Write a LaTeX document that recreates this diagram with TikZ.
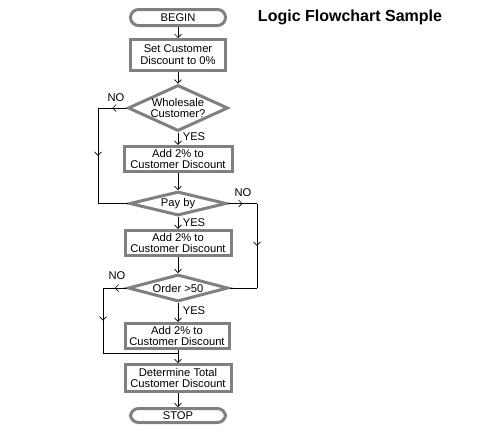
\documentclass[tikz,border=0pt]{standalone}
\usepackage{fontspec}
\setmainfont{Liberation Sans}
\usetikzlibrary{shapes.geometric,arrows.meta,decorations.markings}
\definecolor{boxgray}{RGB}{128,128,128}
\tikzset{
  x=1pt, y=-1pt,
  every node/.style={font=\fontsize{11.2}{11.8}\selectfont},
  term/.style={draw=boxgray, line width=3pt, rectangle, rounded corners=8pt, minimum width=95pt, minimum height=16pt, inner sep=0pt},
  procbox/.style={draw=boxgray, line width=3pt, rectangle, align=center, minimum width=106pt, minimum height=25.5pt, inner sep=0pt},
  decbox/.style={draw=boxgray, line width=3pt, diamond, inner sep=0pt},
  conn/.style={draw=black, line width=0.6pt},
  flowarrow/.style={conn, -{Straight Barb[length=3.5pt,width=7pt]}},
  midmark/.style={conn, postaction={decorate}, decoration={markings, mark=at position #1 with {\arrow{Straight Barb[length=3.5pt,width=7pt]}}}},
  lbl/.style={inner sep=0pt}
}
\begin{document}
\begin{tikzpicture}
\useasboundingbox (0,0) rectangle (494,437);
\fill[white] (0,0) rectangle (494,437);

\node[font=\fontsize{16}{18}\selectfont\bfseries] (title) at (350,17) {Logic Flowchart Sample};

\node[term] (begin) at (178,17.5) {BEGIN};
\node[procbox, minimum width=95pt, minimum height=31pt] (set) at (178,55) {Set Customer\\Discount to 0\%};
\node[decbox, minimum width=100pt, minimum height=46pt, label={[align=center,inner sep=0pt]center:Wholesale\\Customer?}] (whole) at (178,108) {};
\node[procbox, minimum width=108pt] (add1) at (178,159) {Add 2\% to\\Customer Discount};
\node[decbox, minimum width=97pt, minimum height=24pt, label={[inner sep=0pt]center:Pay by}] (pay) at (178,203.5) {};
\node[procbox] (add2) at (178,243) {Add 2\% to\\Customer Discount};
\node[decbox, minimum width=100pt, minimum height=27pt, label={[inner sep=0pt]center:Order >50}] (order) at (178,288) {};
\node[procbox, minimum width=104pt] (add3) at (177,336) {Add 2\% to\\Customer Discount};
\node[procbox, minimum height=27pt] (det) at (178,378) {Determine Total\\Customer Discount};
\node[term, minimum height=14pt] (stop) at (178,415.5) {STOP};

% main flow
\draw[flowarrow] (begin) -- (set);
\draw[flowarrow] (set) -- (whole);
\draw[flowarrow] (whole) -- (add1);
\draw[flowarrow] (add1) -- (pay);
\draw[flowarrow] (pay) -- (add2);
\draw[flowarrow] (add2) -- (order);
\draw[flowarrow] (order.south) -- (order.south |- add3.north);
\draw[flowarrow] (add3.south -| det.north) -- (det.north);
\draw[flowarrow] (det) -- (stop);

% YES labels
\node[lbl] (yes1) at (194,137) {YES};
\node[lbl] (yes2) at (194,222.5) {YES};
\node[lbl] (yes3) at (194,311) {YES};

% NO branch: wholesale
\coordinate (c1) at (98,108);
\coordinate (c2) at (98,203.5);
\draw[midmark=0.5] (whole.west) -- (c1);
\draw[midmark=0.5] (c1) -- (c2);
\draw[conn] (c2) -- (pay.west);
\node[lbl] (no1) at (116,98) {NO};

% NO branch: pay by
\coordinate (c3) at (257,203.5);
\coordinate (c4) at (257,288);
\draw[midmark=0.5] (pay.east) -- (c3);
\draw[midmark=0.5] (c3) -- (c4);
\draw[conn] (c4) -- (order.east);
\node[lbl] (no2) at (243,193) {NO};

% NO branch: order
\coordinate (c5) at (103,288);
\coordinate (c6) at (103,353);
\coordinate (c7) at (178,353);
\draw[midmark=0.5] (order.west) -- (c5);
\draw[midmark=0.5] (c5) -- (c6);
\draw[conn] (c6) -- (c7);
\node[lbl] (no3) at (117,276) {NO};
\end{tikzpicture}
\end{document}
